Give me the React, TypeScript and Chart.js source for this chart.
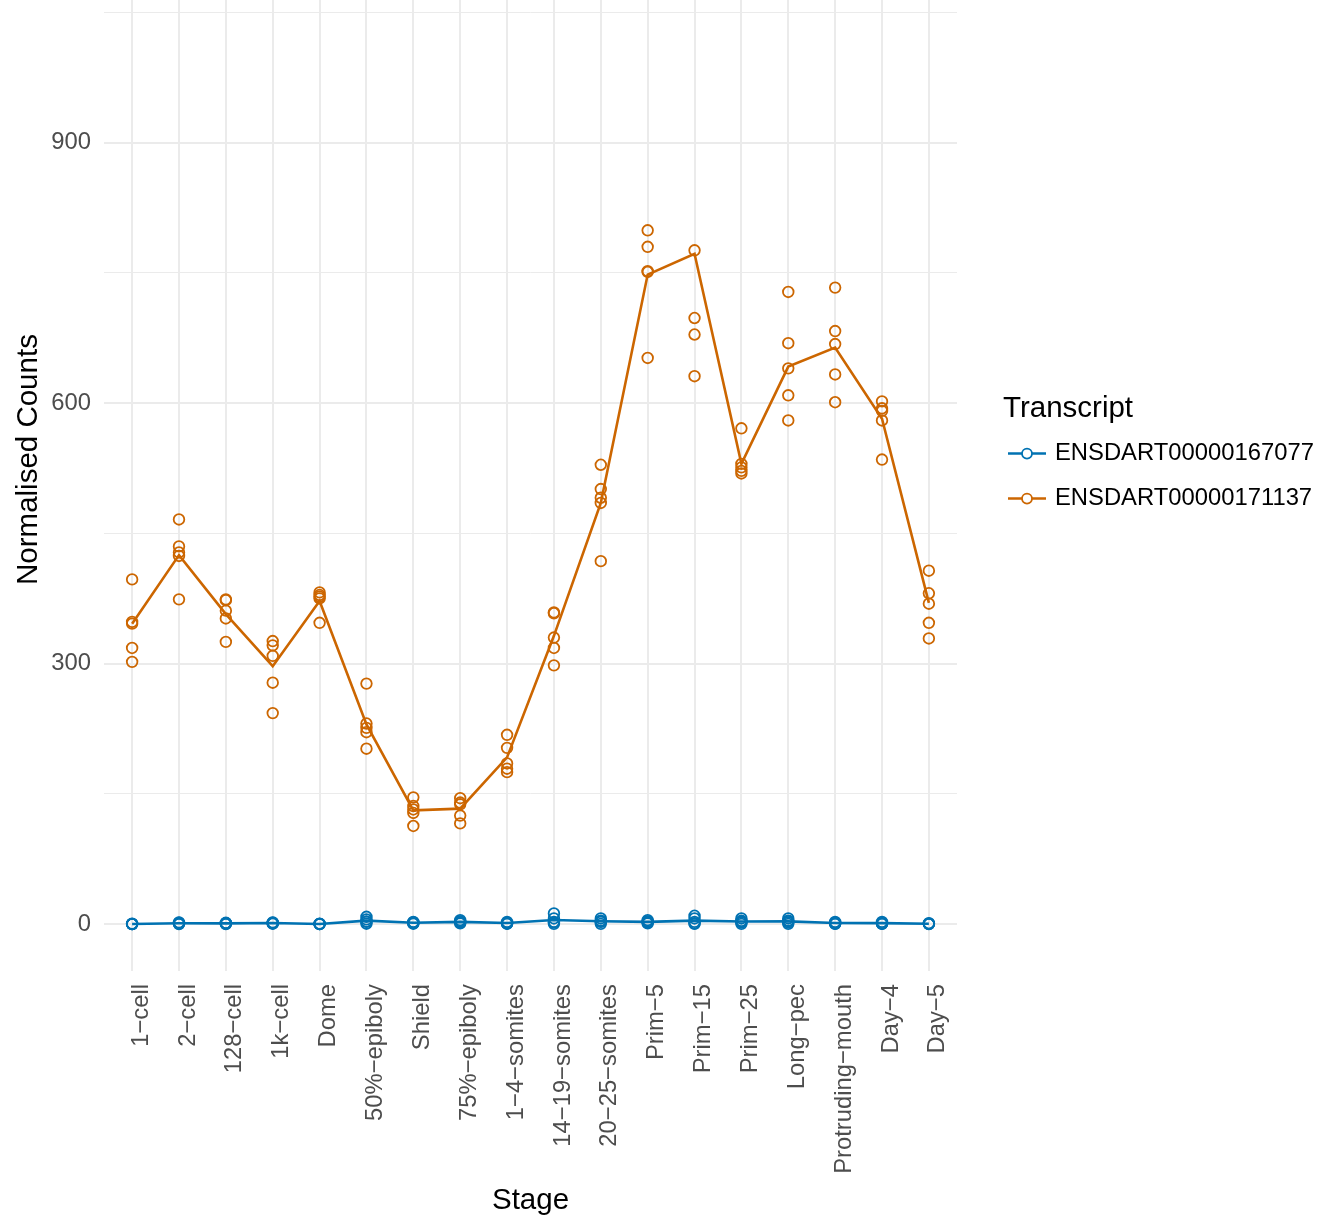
import React, { useEffect, useRef } from "react";
import { Chart, registerables } from "chart.js";

Chart.register(...registerables);

// ---------- data ----------
const stages = [
  "1−cell", "2−cell", "128−cell", "1k−cell", "Dome", "50%−epiboly", "Shield",
  "75%−epiboly", "1−4−somites", "14−19−somites", "20−25−somites", "Prim−5",
  "Prim−15", "Prim−25", "Long−pec", "Protruding−mouth", "Day−4", "Day−5",
];

const transcripts = ["ENSDART00000167077", "ENSDART00000171137"];

const yMajorTicks = [0, 300, 600, 900];
const yMinorTicks = [150, 450, 750, 1050];

// mean line per stage
const meanCounts167077 = [0.2, 1, 0.8, 1.2, 0.2, 4, 1.5, 2.6, 1.2, 4.7, 3.3, 2.6, 4, 3, 3.2, 1.2, 1.1, 0.5];
const meanCounts171137 = [346, 425, 357, 297, 372, 230, 131, 133, 192, 332, 485, 748, 772, 530, 642, 664, 582, 370];

// replicate samples per stage
const reps167077 = [
  [0, 0, 0.5, 0, 0.3],
  [2, 1, 0.5, 1.5, 0],
  [1, 0.5, 1.5, 0, 1],
  [2, 1, 0.5, 1.5, 1],
  [0, 0.5, 0, 0.3, 0.2],
  [8.4, 5.4, 2.6, 0.5, 3],
  [2.6, 1.5, 0.5, 2, 1],
  [4.6, 3, 0.8, 2.5, 2],
  [2.6, 0.5, 1, 1.5, 0.5],
  [12.3, 6.5, 2.6, 0.3, 2],
  [6.5, 2.6, 0.3, 4, 3],
  [4.6, 0.8, 2.5, 3, 2],
  [9.6, 6.5, 2.6, 0.3, 1],
  [6.5, 3.8, 2.6, 0.3, 2],
  [6.5, 3.4, 0.3, 4, 2],
  [2.6, 0.3, 1, 1.5, 0.5],
  [2.6, 0.3, 1, 1, 0.5],
  [0.3, 1, 0.5, 0, 0.5],
];

const reps171137 = [
  [397, 348, 346, 318, 302],
  [466, 435, 428, 424, 374],
  [374, 373, 361, 352, 325],
  [326, 321, 309, 278, 243],
  [382, 379, 377, 375, 347],
  [277, 231, 226, 221, 202],
  [146, 136, 132, 128, 113],
  [145, 140, 138, 125, 116],
  [218, 203, 185, 179, 175],
  [359, 358, 330, 318, 298],
  [529, 501, 491, 485, 418],
  [799, 780, 752, 751, 652],
  [776, 698, 679, 631],
  [571, 530, 526, 522, 519],
  [728, 669, 640, 609, 580],
  [733, 683, 668, 633, 601],
  [602, 594, 591, 580, 535],
  [407, 381, 369, 347, 329],
];

// ---------- style ----------
const FAMILY = "'Liberation Sans', Arial, Helvetica, sans-serif";
const COLORS = ["#0072B2", "#CC6600"];
const GRID = "#EBEBEB";
const TICK_COLOR = "#4D4D4D";
const TOP_SHIFT = 59;
const TICK_SIZE = 23.8;
const TITLE_SIZE = 29.5;

const toPoints = (reps: number[][]) =>
  reps.flatMap((vals, i) => vals.map((v) => ({ x: i, y: v })));
const toLine = (vals: number[]) => vals.map((v, i) => ({ x: i, y: v }));

const legendPlugin = {
  id: "ggLegend",
  afterDraw(chart: any) {
    const { ctx, chartArea } = chart;
    const mid = (chartArea.top + chartArea.bottom) / 2;
    const x0 = chartArea.right + 46;
    ctx.save();
    ctx.textAlign = "left";
    ctx.textBaseline = "middle";
    ctx.fillStyle = "#000";
    ctx.font = `${TITLE_SIZE}px ${FAMILY}`;
    ctx.fillText("Transcript", x0, mid - 51);
    transcripts.forEach((name, i) => {
      const y = mid - 6 + i * 45;
      ctx.strokeStyle = COLORS[i];
      ctx.lineWidth = 2.6;
      ctx.beginPath();
      ctx.moveTo(x0 + 5, y);
      ctx.lineTo(x0 + 43, y);
      ctx.stroke();
      ctx.lineWidth = 1.8;
      ctx.fillStyle = "#fff";
      ctx.beginPath();
      ctx.arc(x0 + 24, y, 5, 0, Math.PI * 2);
      ctx.fill();
      ctx.stroke();
      ctx.fillStyle = "#000";
      ctx.font = `${TICK_SIZE}px ${FAMILY}`;
      ctx.fillText(name, x0 + 52, y);
    });
    ctx.restore();
  },
};

export default function App() {
  const ref = useRef<HTMLCanvasElement | null>(null);

  useEffect(() => {
    if (!ref.current) return;
    const pointDs = (reps: number[][], color: string) => ({
      type: "scatter" as const,
      data: toPoints(reps),
      showLine: false,
      pointStyle: "circle",
      pointRadius: 5.3,
      pointBorderWidth: 1.8,
      pointBackgroundColor: "rgba(0,0,0,0)",
      pointBorderColor: color,
      borderColor: color,
    });
    const lineDs = (vals: number[], color: string) => ({
      type: "line" as const,
      data: toLine(vals),
      showLine: true,
      borderColor: color,
      borderWidth: 2.6,
      pointRadius: 0,
      fill: false,
      tension: 0,
    });

    const chart = new Chart(ref.current, {
      type: "scatter",
      data: {
        datasets: [
          pointDs(reps167077, COLORS[0]),
          lineDs(meanCounts167077, COLORS[0]),
          pointDs(reps171137, COLORS[1]),
          lineDs(meanCounts171137, COLORS[1]),
        ] as any,
      },
      options: {
        animation: false,
        responsive: false,
        devicePixelRatio: 1,
        layout: { padding: { top: 0, right: 362, bottom: 0, left: 0 } },
        plugins: { legend: { display: false }, tooltip: { enabled: false } },
        scales: {
          x: {
            type: "linear",
            min: -0.6,
            max: stages.length - 1 + 0.6,
            afterBuildTicks: (s: any) => {
              s.ticks = stages.map((_, i) => ({ value: i }));
            },
            afterFit: (s: any) => {
              s.height = 248;
              s.paddingLeft = 0;
              s.paddingRight = 0;
            },
            ticks: {
              autoSkip: false,
              minRotation: 90,
              maxRotation: 90,
              padding: 13,
              labelOffset: 9,
              color: TICK_COLOR,
              font: { family: FAMILY, size: TICK_SIZE },
              callback: (v: any) => stages[Math.round(Number(v))] ?? "",
            },
            grid: { color: GRID, lineWidth: 2, drawTicks: false },
            border: { display: false },
            title: {
              display: true,
              text: "Stage",
              color: "#000",
              font: { family: FAMILY, size: TITLE_SIZE },
              padding: { top: 0, bottom: 0 },
            },
          },
          y: {
            type: "linear",
            min: -54,
            max: 1124,
            afterBuildTicks: (s: any) => {
              s.ticks = [...yMajorTicks, ...yMinorTicks]
                .sort((a, b) => a - b)
                .map((v) => ({ value: v }));
            },
            afterFit: (s: any) => {
              s.width = 104;
              s.paddingTop = 0;
              s.paddingBottom = 0;
            },
            ticks: {
              padding: 13,
              color: TICK_COLOR,
              font: { family: FAMILY, size: TICK_SIZE },
              callback: (v: any) => (yMajorTicks.includes(Number(v)) ? String(v) : ""),
            },
            grid: {
              color: GRID,
              drawTicks: false,
              lineWidth: (c: any) =>
                c.tick && yMajorTicks.includes(c.tick.value) ? 2 : 1,
            },
            border: { display: false },
            title: {
              display: true,
              text: "Normalised Counts",
              color: "#000",
              font: { family: FAMILY, size: TITLE_SIZE },
              padding: { top: 11, bottom: 0 },
            },
          },
        },
      },
      plugins: [legendPlugin],
    });
    return () => chart.destroy();
  }, []);

  return (
    <div
      style={{
        position: "fixed",
        left: 0,
        top: 0,
        width: 1319,
        height: 1219,
        overflow: "hidden",
        background: "#fff",
      }}
    >
      <canvas
        ref={ref}
        width={1319}
        height={1219 + TOP_SHIFT}
        style={{ position: "absolute", left: 0, top: -TOP_SHIFT, width: 1319, height: 1219 + TOP_SHIFT }}
      />
    </div>
  );
}
